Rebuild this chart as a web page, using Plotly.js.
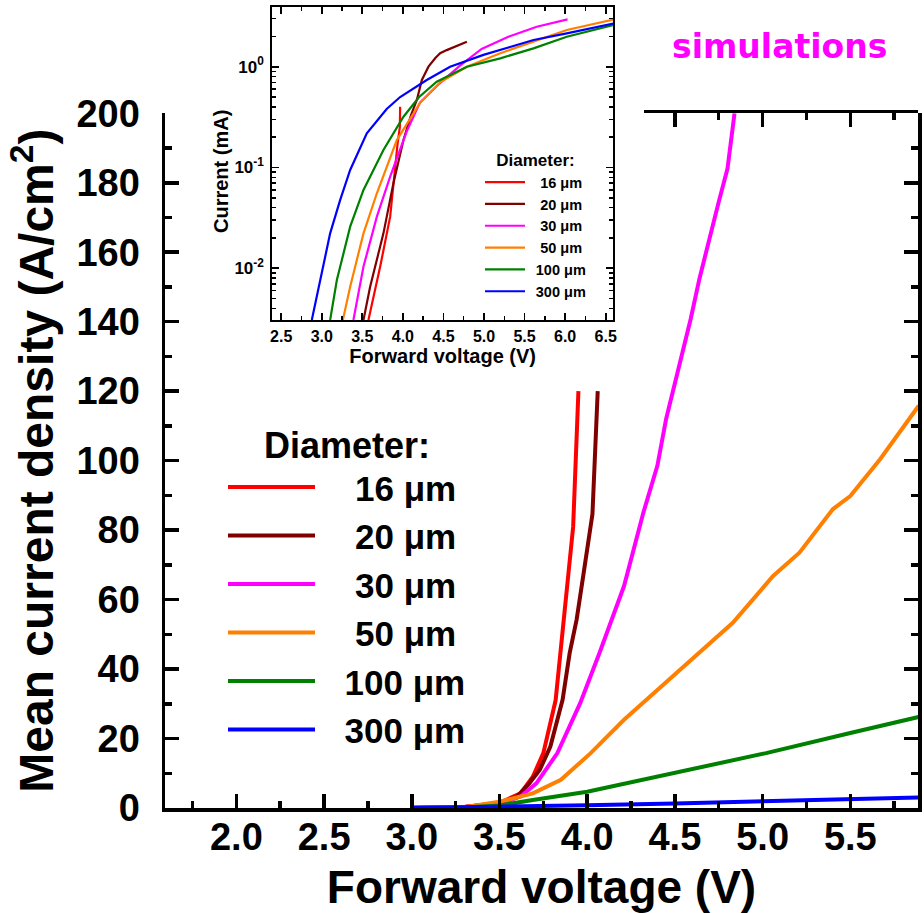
<!DOCTYPE html>
<html><head><meta charset="utf-8">
<script src="https://cdn.plot.ly/plotly-3.0.1.min.js"></script>
<style>html,body{margin:0;padding:0;background:#fff}#c{width:924px;height:913px}</style>
</head><body><div id="c"></div>
<script>
// ---- names / colours ----
const names = ['16 \u03bcm', '20 \u03bcm', '30 \u03bcm', '50 \u03bcm', '100 \u03bcm', '300 \u03bcm'];
const colors = ['#ff0000', '#800000', '#ff00ff', '#ff8000', '#008000', '#0000ff'];

// ---- main panel: mean current density (A/cm2) vs forward voltage (V) ----
const V16 = [3.0, 3.3, 3.5, 3.62, 3.69, 3.75, 3.82, 3.86, 3.89, 3.92, 3.95];
const J16 = [0.05, 0.3, 1.5, 4.2, 9.0, 15.8, 31, 50, 65, 81, 120];
const V20 = [3.0, 3.3, 3.5, 3.60, 3.67, 3.73, 3.79, 3.86, 3.90, 3.94, 3.98, 4.03, 4.06];
const J20 = [0.05, 0.3, 1.4, 3.3, 7.1, 11, 17.7, 31.2, 44.6, 54.3, 67.7, 84.6, 120];
const V30 = [3.0, 3.3, 3.5, 3.62, 3.71, 3.83, 3.96, 4.07, 4.21, 4.32, 4.40, 4.45, 4.59, 4.64, 4.75, 4.80, 4.84];
const J30 = [0.05, 0.3, 1.2, 3.3, 7.1, 15.8, 30.2, 44.6, 63.9, 85, 98.5, 112, 140.8, 152.4, 174.5, 184.1, 200];
const V50 = [3.0, 3.3, 3.5, 3.69, 3.85, 4.02, 4.21, 4.49, 4.83, 5.06, 5.21, 5.40, 5.50, 5.67, 5.77, 5.89];
const J50 = [0.03, 0.2, 1.8, 4.2, 8.1, 15.8, 25.4, 37.9, 53.3, 66.8, 73.5, 86, 89.8, 100.4, 107.2, 115.8];
const V100 = [3.0, 3.3, 3.5, 3.60, 3.69, 4.0, 4.49, 5.02, 5.50, 5.89];
const J100 = [0.02, 0.15, 0.7, 1.4, 2.3, 4.7, 10.0, 15.8, 21.6, 26.2];
const V300 = [3.0, 3.5, 4.0, 4.5, 5.0, 5.5, 5.89];
const J300 = [0.0, 0.3, 0.8, 1.3, 1.9, 2.5, 3.0];

// ---- inset: current (mA, log) vs forward voltage (V) ----
const iV16 = [3.575, 3.72, 3.843, 3.904, 3.935, 3.962, 3.966];
const iI16 = [0.00307, 0.0104, 0.0325, 0.102, 0.174, 0.25, 0.40];
const iV20 = [3.514, 3.596, 3.76, 3.883, 4.007, 4.10, 4.172, 4.234, 4.315, 4.40, 4.459, 4.54, 4.789];
const iI20 = [0.00307, 0.00657, 0.0222, 0.0697, 0.187, 0.33, 0.467, 0.738, 1.0, 1.22, 1.36, 1.46, 1.77];
const iV30 = [3.39, 3.514, 3.679, 3.843, 4.049, 4.21, 4.45, 4.70, 4.97, 5.30, 5.65, 6.03];
const iI30 = [0.00307, 0.0104, 0.0325, 0.081, 0.23, 0.44, 0.68, 1.02, 1.5, 1.98, 2.49, 2.95];
const iV50 = [3.26, 3.35, 3.514, 3.679, 3.925, 4.213, 4.459, 4.789, 5.2, 5.61, 6.02, 6.6];
const iI50 = [0.00307, 0.00657, 0.0222, 0.0555, 0.187, 0.44, 0.70, 1.0, 1.36, 1.77, 2.31, 2.95];
const iV100 = [3.103, 3.186, 3.35, 3.514, 3.76, 4.007, 4.2, 4.417, 4.789, 5.2, 5.61, 6.02, 6.6];
const iI100 = [0.00307, 0.00765, 0.0259, 0.0598, 0.149, 0.319, 0.5, 0.71, 1.0, 1.21, 1.52, 1.98, 2.59];
const iV300 = [2.877, 2.98, 3.103, 3.226, 3.35, 3.555, 3.80, 3.966, 4.294, 4.582, 4.993, 5.3, 5.61, 6.02, 6.6];
const iI300 = [0.00307, 0.00765, 0.0222, 0.0475, 0.0944, 0.218, 0.38, 0.50, 0.738, 1.0, 1.31, 1.55, 1.84, 2.14, 2.69];

const insetYTickVals = [0.01, 0.1, 1];
const insetYTickText = ['10<sup>-2</sup>', '10<sup>-1</sup>', '10<sup>0</sup>'];
const insetYMinor = [0.004,0.005,0.006,0.007,0.008,0.009,0.02,0.03,0.04,0.05,0.06,0.07,0.08,0.09,0.2,0.3,0.4,0.5,0.6,0.7,0.8,0.9,2,3];

const mainX = [V16, V20, V30, V50, V100, V300];
const mainY = [J16, J20, J30, J50, J100, J300];
const insX = [iV16, iV20, iV30, iV50, iV100, iV300];
const insY = [iI16, iI20, iI30, iI50, iI100, iI300];

const FF = 'Liberation Sans, Arial, sans-serif';
const W = 924, H = 913;
const X_MIN = 1.593, X_MAX = 5.886;      // main x range
const PX_L = 165, PX_R = 918;             // main plot area (px)
const TOP_START = 644;                    // where the visible top frame begins (px)
const topStartV = X_MIN + (TOP_START - PX_L) / (PX_R - PX_L) * (X_MAX - X_MIN);

// legend labels are centred in the reference: pad the shorter ones
function padMain(s) { return (s.length < 6 ? '\u2002\u2002' : '\u2002\u2009') + s; }
function padInset(s) { return (s.length < 6 ? '\u2002\u2009' : '\u2009\u2009') + s; }

const traces = [];
for (let k = 0; k < names.length; k++) {
  traces.push({x: mainX[k], y: mainY[k], type: 'scatter', mode: 'lines', name: padMain(names[k]),
    line: {color: colors[k], width: 4}, xaxis: 'x', yaxis: 'y', legend: 'legend'});
}
for (let k = 0; k < names.length; k++) {
  traces.push({x: insX[k], y: insY[k], type: 'scatter', mode: 'lines', name: padInset(names[k]),
    line: {color: colors[k], width: 2.2}, xaxis: 'x2', yaxis: 'y2', legend: 'legend2'});
}
// empty carrier for the partial top frame of the main panel
traces.push({x: [], y: [], type: 'scatter', mode: 'lines', xaxis: 'x3', yaxis: 'y3', showlegend: false, hoverinfo: 'skip'});

const tickStyleMain = {ticks: 'inside', ticklen: 14, tickwidth: 3.5, tickcolor: '#000'};

const layout = {
  width: W, height: H,
  margin: {l: 0, r: 0, t: 0, b: 0},
  paper_bgcolor: '#fff', plot_bgcolor: 'rgba(0,0,0,0)',
  font: {family: FF, color: '#000'},
  xaxis: Object.assign({
    domain: [PX_L / W, PX_R / W], anchor: 'y', range: [X_MIN, X_MAX],
    tick0: 0, dtick: 0.5, tickformat: '.1f',
    minor: {dtick: 0.25, tick0: 0, ticks: 'inside', ticklen: 7, tickwidth: 3.5, tickcolor: '#000'},
    showline: true, linewidth: 3.5, linecolor: '#000', mirror: false,
    showgrid: false, zeroline: false,
    tickfont: {family: FF, size: 38, weight: 'bold'}, ticklabelstandoff: -7,
    title: {text: 'Forward voltage (V)', font: {family: FF, size: 46, weight: 'bold'}, standoff: 18}
  }, tickStyleMain),
  yaxis: Object.assign({
    domain: [1 - 808 / H, 1 - 113.3 / H], anchor: 'x', range: [0, 200],
    tick0: 0, dtick: 20,
    minor: {dtick: 10, tick0: 0, ticks: 'inside', ticklen: 7, tickwidth: 3.5, tickcolor: '#000'},
    showline: true, linewidth: 3.5, linecolor: '#000', mirror: 'ticks',
    showgrid: false, zeroline: false,
    tickfont: {family: FF, size: 38, weight: 'bold'}, ticklabelstandoff: 14,
    title: {text: 'Mean current density (A/cm<sup>2</sup>)', font: {family: FF, size: 48, weight: 'bold'}, standoff: 8}
  }, tickStyleMain),
  xaxis3: Object.assign({
    domain: [TOP_START / W, PX_R / W], anchor: 'y3', side: 'top', range: [topStartV, X_MAX],
    tick0: 0, dtick: 0.5,
    minor: {dtick: 0.25, tick0: 0, ticks: 'inside', ticklen: 7, tickwidth: 3.5, tickcolor: '#000'},
    showline: true, linewidth: 3.5, linecolor: '#000', mirror: false,
    showgrid: false, zeroline: false, showticklabels: false
  }, tickStyleMain),
  yaxis3: {
    domain: [1 - 808 / H, 1 - 113.3 / H], anchor: 'x3', range: [0, 1],
    visible: false, showgrid: false, zeroline: false
  },
  xaxis2: {
    domain: [272.3 / W, 613 / W], anchor: 'y2', range: [2.39, 6.59],
    tick0: 0, dtick: 0.5, tickformat: '.1f',
    ticks: 'inside', ticklen: 7, tickwidth: 1.8, tickcolor: '#000',
    minor: {dtick: 0.25, tick0: 0, ticks: 'inside', ticklen: 4, tickwidth: 1.5, tickcolor: '#000'},
    showline: true, linewidth: 2, linecolor: '#000', mirror: 'allticks',
    showgrid: false, zeroline: false,
    tickfont: {family: FF, size: 16, weight: 'bold'}, ticklabelstandoff: 1,
    title: {text: 'Forward voltage (V)', font: {family: FF, size: 20, weight: 'bold'}, standoff: 4}
  },
  yaxis2: {
    domain: [1 - 320 / H, 1 - 6.7 / H], anchor: 'x2', type: 'log', range: [-2.513, 0.595],
    tickmode: 'array', tickvals: insetYTickVals, ticktext: insetYTickText,
    ticks: 'inside', ticklen: 7, tickwidth: 1.8, tickcolor: '#000',
    minor: {tickmode: 'array', tickvals: insetYMinor, ticks: 'inside', ticklen: 4, tickwidth: 1.5, tickcolor: '#000'},
    showline: true, linewidth: 2, linecolor: '#000', mirror: 'allticks',
    showgrid: false, zeroline: false,
    tickfont: {family: FF, size: 17, weight: 'bold'}, ticklabelstandoff: 3
  },
  showlegend: true,
  legend: {
    x: 223 / W, y: 1 - 411 / H, xanchor: 'left', yanchor: 'top',
    bgcolor: 'rgba(0,0,0,0)', borderwidth: 0,
    font: {family: FF, size: 35, weight: 'bold'},
    title: {text: 'Diameter:', side: 'top center', font: {family: FF, size: 36, weight: 'bold'}},
    itemwidth: 87, traceorder: 'normal'
  },
  legend2: {
    x: 480 / W, y: 1 - 144 / H, xanchor: 'left', yanchor: 'top',
    bgcolor: 'rgba(0,0,0,0)', borderwidth: 0,
    font: {family: FF, size: 14.5, weight: 'bold'},
    title: {text: 'Diameter:', side: 'top center', font: {family: FF, size: 17, weight: 'bold'}},
    itemwidth: 40, traceorder: 'normal'
  },
  annotations: [{
    text: 'simulations', xref: 'paper', yref: 'paper', x: 779 / W, y: 1 - 46 / H,
    xanchor: 'center', yanchor: 'middle', showarrow: false,
    font: {family: 'Comic Sans MS, DejaVu Sans, sans-serif', size: 33, color: '#ff00ff', weight: 'bold'}
  }, {
    text: 'Current (mA)', xref: 'paper', yref: 'paper', x: 221 / W, y: 1 - 172 / H,
    xanchor: 'center', yanchor: 'middle', textangle: -90, showarrow: false,
    font: {family: FF, size: 20, weight: 'bold'}
  }]
};

Plotly.newPlot('c', traces, layout, {displayModeBar: false, staticPlot: true});
</script>
</body></html>
